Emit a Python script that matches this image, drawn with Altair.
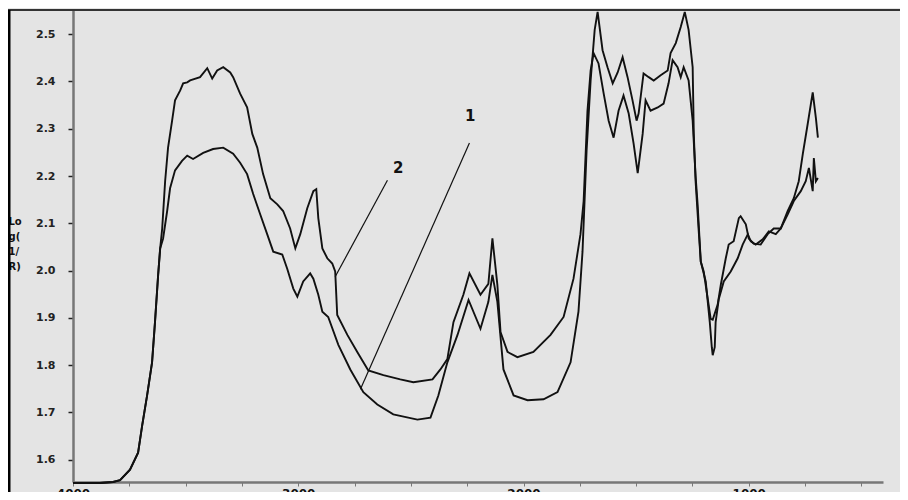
import altair as alt
import pandas as pd

# shared baseline / rising edge (both spectra coincide here)
base_wn = [4000, 3880, 3822, 3791, 3747, 3711, 3693, 3671, 3649, 3636, 3622, 3613]
base_y = [1.551, 1.551, 1.553, 1.557, 1.579, 1.615, 1.672, 1.736, 1.806, 1.891, 1.991, 2.047]

# spectrum 2
c2_wn = [3604, 3591, 3578, 3560, 3547, 3524, 3511, 3493, 3480, 3436, 3404, 3382, 3360, 3333,
         3302, 3289, 3258, 3227, 3204, 3182, 3156, 3124, 3093, 3067, 3036, 3013, 2991, 2960,
         2933, 2920, 2911, 2893, 2871, 2849, 2836, 2827, 2782, 2738, 2689, 2622, 2547, 2489,
         2404, 2369, 2338, 2311, 2267, 2240, 2191, 2156, 2138, 2116, 2102, 2071, 2027, 1956,
         1880, 1822, 1778, 1747, 1733, 1716, 1702, 1689, 1667, 1644, 1622, 1600, 1578, 1556,
         1533, 1511, 1493, 1471, 1458, 1436, 1404, 1378, 1356, 1338, 1316, 1302, 1289, 1267,
         1249, 1236, 1227, 1213, 1200, 1182, 1169, 1160, 1138, 1124, 1102, 1089, 1067, 1044,
         1036, 1013, 1000, 978, 947, 916, 889, 858, 827, 800, 778, 760, 738, 716, 702, 693]
c2_y = [2.089, 2.189, 2.260, 2.317, 2.360, 2.381, 2.396, 2.398, 2.402, 2.409, 2.428, 2.406, 2.423, 2.430,
        2.419, 2.409, 2.374, 2.345, 2.289, 2.260, 2.204, 2.153, 2.140, 2.126, 2.089, 2.047, 2.077, 2.132,
        2.168, 2.172, 2.111, 2.047, 2.026, 2.015, 1.998, 1.906, 1.864, 1.828, 1.789, 1.779, 1.770, 1.764,
        1.770, 1.791, 1.813, 1.891, 1.949, 1.994, 1.949, 1.972, 2.068, 1.970, 1.870, 1.828, 1.817, 1.828,
        1.864, 1.902, 1.983, 2.077, 2.147, 2.338, 2.423, 2.460, 2.438, 2.374, 2.317, 2.281, 2.338, 2.370,
        2.332, 2.268, 2.206, 2.289, 2.360, 2.338, 2.345, 2.353, 2.396, 2.445, 2.430, 2.409, 2.430, 2.402,
        2.317, 2.200, 2.140, 2.019, 1.998, 1.940, 1.898, 1.896, 1.928, 1.970, 2.026, 2.055, 2.062, 2.111,
        2.115, 2.098, 2.068, 2.057, 2.055, 2.077, 2.089, 2.089, 2.126, 2.153, 2.189, 2.247, 2.311, 2.377,
        2.323, 2.281]

# spectrum 1
c1_wn = [3600, 3582, 3569, 3547, 3516, 3493, 3467, 3422, 3378, 3333, 3289, 3258, 3227,
         3200, 3169, 3138, 3111, 3071, 3049, 3022, 3004, 2978, 2947, 2933, 2911, 2893, 2867,
         2822, 2769, 2711, 2649, 2578, 2471, 2413, 2378, 2338, 2293, 2244, 2191, 2156, 2138,
         2116, 2089, 2044, 1982, 1911, 1849, 1791, 1756, 1738, 1720, 1702, 1684, 1671, 1649,
         1627, 1604, 1582, 1560, 1538, 1516, 1498, 1489, 1467, 1444, 1422, 1391, 1360, 1347,
         1324, 1302, 1284, 1267, 1249, 1244, 1236, 1222, 1213, 1191, 1173, 1164, 1160, 1151,
         1147, 1133, 1111, 1080, 1049, 1027, 1004, 991, 969, 938, 911, 880, 858, 827, 800, 769,
         747, 733, 716, 711, 702, 693]
c1_y = [2.068, 2.126, 2.174, 2.212, 2.232, 2.243, 2.236, 2.249, 2.257, 2.260, 2.247, 2.228, 2.204,
        2.162, 2.119, 2.077, 2.040, 2.034, 2.004, 1.962, 1.945, 1.977, 1.994, 1.983, 1.949, 1.913, 1.902,
        1.843, 1.791, 1.743, 1.717, 1.696, 1.685, 1.689, 1.736, 1.806, 1.864, 1.938, 1.877, 1.934, 1.991,
        1.934, 1.791, 1.736, 1.726, 1.728, 1.743, 1.806, 1.913, 2.040, 2.253, 2.402, 2.509, 2.547, 2.466,
        2.430, 2.396, 2.419, 2.451, 2.409, 2.360, 2.317, 2.332, 2.417, 2.409, 2.402, 2.413, 2.423, 2.460,
        2.481, 2.515, 2.547, 2.509, 2.430, 2.289, 2.189, 2.083, 2.019, 1.977, 1.891, 1.838, 1.821, 1.838,
        1.891, 1.940, 1.977, 1.998, 2.026, 2.055, 2.077, 2.062, 2.055, 2.066, 2.083, 2.077, 2.089, 2.119,
        2.147, 2.168, 2.189, 2.217, 2.168, 2.238, 2.189, 2.196]

# annotations: label text position and leader line ends (data units)
ann_label = ["2", "1"]
ann_wn = [2556, 2236]
ann_y = [2.217, 2.326]
lead_wn1 = [2604, 2240]
lead_y1 = [2.191, 2.270]
lead_wn2 = [2836, 2724]
lead_y2 = [1.987, 1.749]

y_ticks = [1.6, 1.7, 1.8, 1.9, 2.0, 2.1, 2.2, 2.3, 2.4, 2.5]
x_ticks = list(range(4000, 499, -250))

rows = []
for name, wns, ys in [("2", base_wn + c2_wn, base_y + c2_y), ("1", base_wn + c1_wn, base_y + c1_y)]:
    for w, v in zip(wns, ys):
        rows.append({"wn": w, "val": v, "curve": name})
df = pd.DataFrame(rows)

ann = pd.DataFrame({"label": ann_label, "wn": ann_wn, "val": ann_y})
lead = pd.DataFrame({"w1": lead_wn1, "v1": lead_y1, "w2": lead_wn2, "v2": lead_y2})

xscale = alt.Scale(domain=[404, 4000], reverse=True, nice=False, zero=False)
yscale = alt.Scale(domain=[1.553, 2.551], nice=False, zero=False)

lines = alt.Chart(df).mark_line(color="#111", strokeWidth=1.9).encode(
    x=alt.X("wn:Q", scale=xscale,
            axis=alt.Axis(values=x_ticks, title=None, grid=False,
                          labelExpr="datum.value % 1000 === 0 ? datum.value : ''",
                          labelFont="DejaVu Sans", labelFontWeight="bold", labelFontSize=12,
                          labelColor="#111", labelPadding=2, tickSize=4, tickColor="#777",
                          domainColor="#777", domainWidth=2.5, labelFlush=False)),
    y=alt.Y("val:Q", scale=yscale,
            axis=alt.Axis(values=y_ticks, grid=False, format=".1f",
                          title=["Lo", "g(", "1/", "R)"], titleAngle=0, titleX=-65, titleY=206,
                          titleAlign="left", titleBaseline="top", titleFontSize=10,
                          titleFont="DejaVu Sans", titleFontWeight="bold", titleLineHeight=15,
                          titleColor="#111",
                          labelFont="DejaVu Sans", labelFontWeight="bold", labelFontSize=11,
                          labelColor="#222", labelPadding=13, tickSize=5, tickColor="#222",
                          tickWidth=1.5, domainColor="#777", domainWidth=2.5)),
    detail="curve:N",
)

leaders = alt.Chart(lead).mark_rule(color="#111", strokeWidth=1.2).encode(
    x=alt.X("w1:Q", scale=xscale), y=alt.Y("v1:Q", scale=yscale),
    x2="w2:Q", y2="v2:Q",
)

labels = alt.Chart(ann).mark_text(font="DejaVu Sans", fontWeight="bold", fontSize=15,
                                  color="#111").encode(
    x=alt.X("wn:Q", scale=xscale), y=alt.Y("val:Q", scale=yscale), text="label:N",
)

frame_top = alt.Chart(pd.DataFrame({"k": [0]})).mark_rule(color="#333", strokeWidth=2).encode(
    x=alt.value(-65), x2=alt.value(830), y=alt.value(0)
)
frame_left = alt.Chart(pd.DataFrame({"k": [0]})).mark_rule(color="#000", strokeWidth=3).encode(
    x=alt.value(-64), y=alt.value(0), y2=alt.value(490)
)

chart = alt.layer(lines, leaders, labels, frame_top, frame_left).properties(
    width=810, height=472,
    autosize=alt.AutoSizeParams(type="none"),
    padding={"left": 65, "top": 2, "right": 17, "bottom": 10},
    background="#e4e4e4",
).configure_view(stroke=None)

chart.save("out.html", embed_options={"renderer": "svg", "actions": False})
